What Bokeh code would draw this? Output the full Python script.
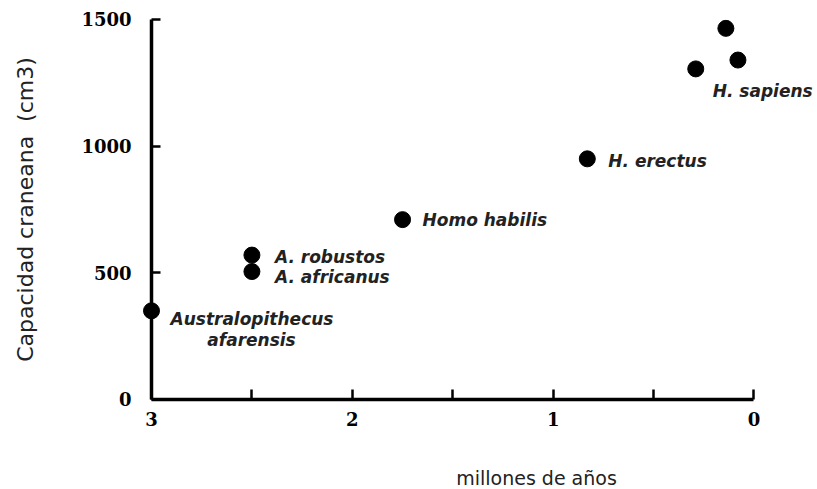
from bokeh.plotting import figure
from bokeh.models import Range1d, LinearAxis, FixedTicker, Label
from bokeh.embed import file_html
from bokeh.resources import INLINE

# data
species = ["Australopithecus afarensis", "A. robustos", "A. africanus", "Homo habilis",
           "H. erectus", "H. sapiens", "H. sapiens", "H. sapiens"]
mya = [3.0, 2.5, 2.5, 1.75, 0.83, 0.29, 0.14, 0.08]
cranial = [350, 570, 505, 710, 950, 1305, 1465, 1340]

x_major_ticks = [0, 1, 2, 3]
x_minor_ticks = [0.5, 1.5, 2.5]
y_ticks = [0, 500, 1000, 1500]

p = figure(width=817, height=489, output_backend="svg", toolbar_location=None,
           x_range=Range1d(3.7519, -0.3162), y_range=Range1d(-355.3, 1575.0),
           x_axis_type=None, y_axis_type=None, min_border=0,
           outline_line_color=None, background_fill_color="white")
p.grid.visible = False

tick_font = "DejaVu Serif"

xaxis = LinearAxis(fixed_location=0, bounds=(0, 3),
                   ticker=FixedTicker(ticks=x_major_ticks, minor_ticks=x_minor_ticks))
xaxis.axis_line_width = 3.5
xaxis.axis_line_color = "black"
xaxis.major_tick_in = 10
xaxis.major_tick_out = 0
xaxis.minor_tick_in = 10
xaxis.minor_tick_out = 0
xaxis.major_tick_line_width = 2.5
xaxis.minor_tick_line_width = 2.5
xaxis.major_tick_line_color = "black"
xaxis.minor_tick_line_color = "black"
xaxis.major_label_standoff = 13
xaxis.major_label_text_font = tick_font
xaxis.major_label_text_font_style = "bold"
xaxis.major_label_text_font_size = "18px"
xaxis.major_label_text_color = "black"
p.add_layout(xaxis, "below")

yaxis = LinearAxis(fixed_location=3, bounds=(0, 1500), ticker=FixedTicker(ticks=y_ticks))
yaxis.axis_line_width = 3.5
yaxis.axis_line_color = "black"
yaxis.major_tick_in = 9
yaxis.major_tick_out = 0
yaxis.minor_tick_line_color = None
yaxis.major_tick_line_width = 2.5
yaxis.major_tick_line_color = "black"
yaxis.major_label_standoff = 20
yaxis.major_label_text_font = tick_font
yaxis.major_label_text_font_style = "bold"
yaxis.major_label_text_font_size = "18px"
yaxis.major_label_text_color = "black"
yaxis.axis_label = "Capacidad craneana\u00a0\u00a0(cm3)"
yaxis.axis_label_text_font = "DejaVu Sans"
yaxis.axis_label_text_font_style = "normal"
yaxis.axis_label_text_font_size = "22px"
yaxis.axis_label_text_color = "#222222"
yaxis.axis_label_standoff = 40
p.add_layout(yaxis, "left")

p.scatter(mya, cranial, size=16, color="black", marker="circle")

lab_style = dict(text_font="DejaVu Sans", text_font_style="bold italic",
                 text_font_size="17px", text_color="#222222",
                 text_baseline="middle", text_align="left")

p.add_layout(Label(x=mya[0], y=cranial[0], x_offset=19, y_offset=-8,
                   text="Australopithecus", **lab_style))
p.add_layout(Label(x=mya[0], y=cranial[0], x_offset=100, y_offset=-29,
                   text="afarensis", **{**lab_style, "text_align": "center"}))
p.add_layout(Label(x=mya[1], y=cranial[1], x_offset=23, y_offset=-2,
                   text=species[1], **lab_style))
p.add_layout(Label(x=mya[2], y=cranial[2], x_offset=23, y_offset=-5,
                   text=species[2], **lab_style))
p.add_layout(Label(x=mya[3], y=cranial[3], x_offset=20, y_offset=0,
                   text=species[3], **lab_style))
p.add_layout(Label(x=mya[4], y=cranial[4], x_offset=21, y_offset=-2,
                   text=species[4], **lab_style))
p.add_layout(Label(x=mya[5], y=cranial[5], x_offset=17, y_offset=-22,
                   text=species[5], **lab_style))

p.add_layout(Label(x=536, y=1, x_units="screen", y_units="screen",
                   text="millones de años", text_font="DejaVu Sans",
                   text_font_size="19px", text_color="#222222",
                   text_align="center", text_baseline="bottom"))

open("out.html", "w").write(file_html(p, INLINE))
